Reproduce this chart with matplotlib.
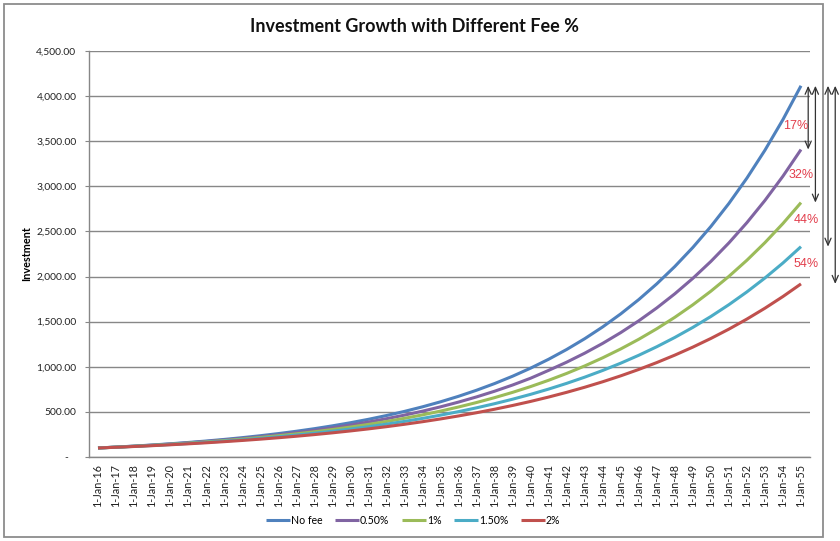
import matplotlib
matplotlib.use('Agg')
import matplotlib.pyplot as plt
from matplotlib.ticker import FuncFormatter, MultipleLocator
from matplotlib.patches import Rectangle

dates = ["1-Jan-16", "1-Jan-17", "1-Jan-18", "1-Jan-19", "1-Jan-20", "1-Jan-21", "1-Jan-22", "1-Jan-23",
         "1-Jan-24", "1-Jan-25", "1-Jan-26", "1-Jan-27", "1-Jan-28", "1-Jan-29", "1-Jan-30", "1-Jan-31",
         "1-Jan-32", "1-Jan-33", "1-Jan-34", "1-Jan-35", "1-Jan-36", "1-Jan-37", "1-Jan-38", "1-Jan-39",
         "1-Jan-40", "1-Jan-41", "1-Jan-42", "1-Jan-43", "1-Jan-44", "1-Jan-45", "1-Jan-46", "1-Jan-47",
         "1-Jan-48", "1-Jan-49", "1-Jan-50", "1-Jan-51", "1-Jan-52", "1-Jan-53", "1-Jan-54", "1-Jan-55"]

no_fee = [100, 110, 121, 133.1, 146.4, 161.1, 177.2, 194.9, 214.4, 235.8,
          259.4, 285.3, 313.8, 345.2, 379.7, 417.7, 459.5, 505.4, 556.0, 611.6,
          672.7, 740.0, 814.0, 895.4, 985.0, 1083.5, 1191.8, 1311.0, 1442.1, 1586.3,
          1744.9, 1919.4, 2111.4, 2322.5, 2554.8, 2810.2, 3091.3, 3400.4, 3740.4, 4114.5]

fee_050 = [100, 109.5, 119.8, 131.1, 143.5, 157.1, 171.9, 188.1, 205.9, 225.4,
           246.7, 270.0, 295.5, 323.4, 354.0, 387.5, 424.1, 464.2, 508.0, 556.0,
           608.6, 666.1, 729.0, 797.9, 873.3, 960.2, 1051.1, 1150.7, 1259.6, 1378.8,
           1509.5, 1652.4, 1808.9, 1980.1, 2167.6, 2373.0, 2597.7, 2843.7, 3112.8, 3407.6]

fee_100 = [100, 108.9, 118.7, 129.3, 140.8, 153.4, 167.1, 182.1, 198.4, 216.1,
           235.4, 256.5, 279.4, 304.4, 331.6, 361.2, 393.5, 428.7, 467.0, 508.8,
           554.2, 603.8, 657.8, 716.5, 780.6, 850.4, 926.4, 1009.2, 1099.5, 1197.7,
           1304.8, 1421.5, 1548.4, 1686.9, 1837.8, 2001.9, 2181.0, 2376.0, 2588.2, 2819.7]

fee_150 = [100, 108.4, 117.5, 127.4, 138.1, 149.7, 162.3, 176.0, 190.8, 206.8,
           224.2, 243.1, 263.5, 285.7, 309.7, 335.8, 364.0, 394.6, 427.8, 463.8,
           502.8, 545.1, 590.9, 640.6, 694.5, 752.9, 816.2, 884.9, 959.3, 1040.0,
           1127.5, 1222.3, 1325.1, 1436.5, 1557.3, 1688.3, 1830.1, 1984.1, 2150.6, 2331.5]

fee_200 = [100, 107.9, 116.4, 125.5, 135.4, 146.0, 157.5, 169.9, 183.3, 197.7,
           213.3, 230.1, 248.2, 267.7, 288.8, 311.5, 336.0, 362.5, 391.0, 421.8,
           455.0, 490.8, 529.4, 571.1, 616.0, 664.5, 716.8, 773.2, 834.0, 899.6,
           970.4, 1046.8, 1129.2, 1218.0, 1313.9, 1417.3, 1528.9, 1649.2, 1778.9, 1918.7]

series_names = ["No fee", "0.50%", "1%", "1.50%", "2%"]
series_values = [no_fee, fee_050, fee_100, fee_150, fee_200]
series_colors = ["#4F81BD", "#8064A2", "#9BBB59", "#4BACC6", "#C0504D"]
gap_labels = ["17%", "32%", "44%", "54%"]

FONT = "Lato"
plt.rcParams['font.family'] = [FONT, 'DejaVu Sans']

W, H = 840, 541
fig = plt.figure(figsize=(W / 100, H / 100), dpi=100)
L, R, T, B = 89, 810, 51, 457
ax = fig.add_axes([L / W, 1 - B / H, (R - L) / W, (B - T) / H])

x = list(range(len(dates)))
for name, vals, col in zip(series_names, series_values, series_colors):
    ax.plot(x, vals, color=col, lw=2.2, label=name, solid_capstyle='butt', solid_joinstyle='round')

ax.set_xlim(-0.5, len(dates) - 0.5)
ax.set_ylim(0, 4500)
ax.yaxis.set_major_locator(MultipleLocator(500))
ax.yaxis.set_major_formatter(FuncFormatter(lambda v, p: "-   " if v == 0 else f"{v:,.2f}"))
ax.yaxis.grid(True, color='#878787', lw=1.0)
ax.set_axisbelow(True)
for s in ['top', 'right']:
    ax.spines[s].set_visible(False)
for s in ['left', 'bottom']:
    ax.spines[s].set_color('#878787')
    ax.spines[s].set_linewidth(1.0)

ax.set_xticks(x)
ax.set_xticklabels(dates, rotation=90, fontsize=7.8, color='#222222')
ax.tick_params(axis='x', length=0, pad=5)
ax.tick_params(axis='y', length=3, color='#878787', labelsize=7.4, labelcolor='#222222', pad=6)

ax.set_ylabel("Investment", fontsize=7.8, fontweight='bold')
ax.yaxis.set_label_coords((32 - L) / (R - L), 0.5)

fig.text(414 / W, 1 - 26 / H, "Investment Growth with Different Fee %", ha='center', va='center',
         fontsize=13, fontweight='bold', color='#111111')

fig.legend(loc='center', bbox_to_anchor=(413 / W, 1 - 520 / H), ncol=5, frameon=False,
           handlelength=2.3, columnspacing=1.15, handletextpad=0.1, fontsize=7.6)

fig.add_artist(Rectangle((4 / W, 1 - 537 / H), (823 - 4) / W, (537 - 4) / H, transform=fig.transFigure,
                         fill=False, edgecolor='#8c8c8c', lw=1.3))

# gap arrows from the no-fee end value to each fee end value
top_val = no_fee[-1]
arrow_x = [39.4, 39.8, 40.5, 40.9]
label_x = [38.7, 39.0, 39.3, 39.3]
label_dy = [262, 306, 295, 221]
for i, vals in enumerate(series_values[1:]):
    ax.annotate('', xy=(arrow_x[i], vals[-1]), xytext=(arrow_x[i], top_val),
                arrowprops=dict(arrowstyle='<->,head_length=0.5,head_width=0.22', color='#333333', lw=0.9,
                                shrinkA=0, shrinkB=0), annotation_clip=False)
    ax.text(label_x[i], vals[-1] + label_dy[i], gap_labels[i], color='#E23D4B', fontsize=9,
            family='Liberation Sans', ha='center', va='center', clip_on=False)

fig.savefig('out.png', dpi=100)
